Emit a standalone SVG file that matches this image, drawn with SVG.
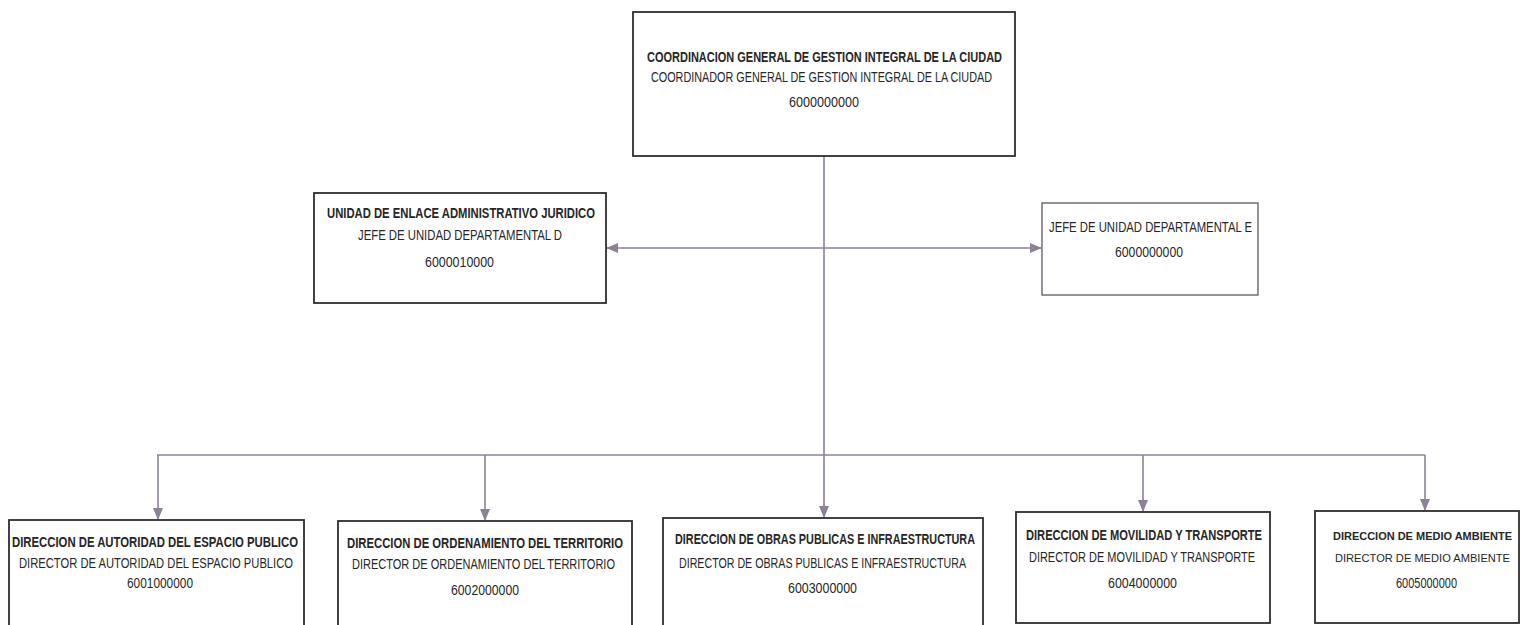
<svg xmlns="http://www.w3.org/2000/svg" width="1522" height="625" viewBox="0 0 1522 625">
<style>
.box{fill:#fff;stroke:#2e2e2e;stroke-width:1.8}
.box2{fill:#fff;stroke:#6a6270;stroke-width:1.4}
text{font-family:"Liberation Sans Narrow","Liberation Sans",Arial,sans-serif;font-size:14px;fill:#262626;text-anchor:middle}
.b{font-weight:bold}
.sm{font-size:11px}
.conn{stroke:#8c8296;stroke-width:1.6;fill:none}
</style>
<defs>
<marker id="ah" markerUnits="userSpaceOnUse" markerWidth="12" markerHeight="12" viewBox="0 0 12 12" refX="11" refY="6" orient="auto">
<path d="M0,1 L12,6 L0,11 Z" fill="#8c8296"/>
</marker>
<marker id="ahs" markerUnits="userSpaceOnUse" markerWidth="12" markerHeight="12" viewBox="0 0 12 12" refX="1" refY="6" orient="auto">
<path d="M12,1 L0,6 L12,11 Z" fill="#8c8296"/>
</marker>
</defs>
<rect width="1522" height="625" fill="#fff"/>
<g id="connectors">
<line class="conn" x1="824" y1="156" x2="824" y2="455"/>
<line class="conn" x1="607" y1="248" x2="1041" y2="248" marker-start="url(#ahs)" marker-end="url(#ah)"/>
<line class="conn" x1="157" y1="455" x2="1425" y2="455"/>
<line class="conn" x1="158" y1="455" x2="158" y2="519" marker-end="url(#ah)"/>
<line class="conn" x1="485" y1="455" x2="485" y2="520" marker-end="url(#ah)"/>
<line class="conn" x1="824" y1="455" x2="824" y2="517" marker-end="url(#ah)"/>
<line class="conn" x1="1143" y1="455" x2="1143" y2="511" marker-end="url(#ah)"/>
<line class="conn" x1="1425" y1="455" x2="1425" y2="510" marker-end="url(#ah)"/>
</g>
<g id="n_top">
<rect class="box" x="633" y="12" width="382" height="144"/>
<text class="b" x="824.5" y="62" textLength="355" lengthAdjust="spacingAndGlyphs">COORDINACION GENERAL DE GESTION INTEGRAL DE LA CIUDAD</text>
<text x="821.5" y="82" textLength="341" lengthAdjust="spacingAndGlyphs">COORDINADOR GENERAL DE GESTION INTEGRAL DE LA CIUDAD</text>
<text x="824" y="107" textLength="70" lengthAdjust="spacingAndGlyphs">6000000000</text>
</g>
<g id="n_unidad">
<rect class="box" x="314" y="193" width="292" height="110"/>
<text class="b" x="461" y="218" textLength="268" lengthAdjust="spacingAndGlyphs">UNIDAD DE ENLACE ADMINISTRATIVO JURIDICO</text>
<text x="460" y="240" textLength="204" lengthAdjust="spacingAndGlyphs">JEFE DE UNIDAD DEPARTAMENTAL D</text>
<text x="459.5" y="267" textLength="69" lengthAdjust="spacingAndGlyphs">6000010000</text>
</g>
<g id="n_jefe_e">
<rect class="box2" x="1042" y="203" width="216" height="92"/>
<text x="1150.5" y="232" textLength="203" lengthAdjust="spacingAndGlyphs">JEFE DE UNIDAD DEPARTAMENTAL E</text>
<text x="1149" y="257" textLength="68" lengthAdjust="spacingAndGlyphs">6000000000</text>
</g>
<g id="n_dir1">
<rect class="box" x="9" y="520" width="295" height="115"/>
<text class="b" x="155" y="547" textLength="286" lengthAdjust="spacingAndGlyphs">DIRECCION DE AUTORIDAD DEL ESPACIO PUBLICO</text>
<text x="156" y="568" textLength="274" lengthAdjust="spacingAndGlyphs">DIRECTOR DE AUTORIDAD DEL ESPACIO PUBLICO</text>
<text x="160" y="588" textLength="66" lengthAdjust="spacingAndGlyphs">6001000000</text>
</g>
<g id="n_dir2">
<rect class="box" x="338" y="521" width="294" height="115"/>
<text class="b" x="485" y="548" textLength="276" lengthAdjust="spacingAndGlyphs">DIRECCION DE ORDENAMIENTO DEL TERRITORIO</text>
<text x="483.5" y="569" textLength="263" lengthAdjust="spacingAndGlyphs">DIRECTOR DE ORDENAMIENTO DEL TERRITORIO</text>
<text x="485" y="595" textLength="68" lengthAdjust="spacingAndGlyphs">6002000000</text>
</g>
<g id="n_dir3">
<rect class="box" x="663" y="518" width="320" height="118"/>
<text class="b" x="825" y="544" textLength="300" lengthAdjust="spacingAndGlyphs">DIRECCION DE OBRAS PUBLICAS E INFRAESTRUCTURA</text>
<text x="822.5" y="568" textLength="287" lengthAdjust="spacingAndGlyphs">DIRECTOR DE OBRAS PUBLICAS E INFRAESTRUCTURA</text>
<text x="822.5" y="593" textLength="69" lengthAdjust="spacingAndGlyphs">6003000000</text>
</g>
<g id="n_dir4">
<rect class="box" x="1016" y="512" width="254" height="111"/>
<text class="b" x="1144" y="540" textLength="236" lengthAdjust="spacingAndGlyphs">DIRECCION DE MOVILIDAD Y TRANSPORTE</text>
<text x="1142" y="562" textLength="226" lengthAdjust="spacingAndGlyphs">DIRECTOR DE MOVILIDAD Y TRANSPORTE</text>
<text x="1142.5" y="588" textLength="69" lengthAdjust="spacingAndGlyphs">6004000000</text>
</g>
<g id="n_dir5">
<rect class="box" x="1315" y="511" width="204" height="112"/>
<text class="b sm" x="1422.5" y="540" textLength="179" lengthAdjust="spacingAndGlyphs">DIRECCION DE MEDIO AMBIENTE</text>
<text class="sm" x="1422.5" y="562" textLength="175" lengthAdjust="spacingAndGlyphs">DIRECTOR DE MEDIO AMBIENTE</text>
<text x="1426.5" y="588" textLength="61" lengthAdjust="spacingAndGlyphs">6005000000</text>
</g>
</svg>
